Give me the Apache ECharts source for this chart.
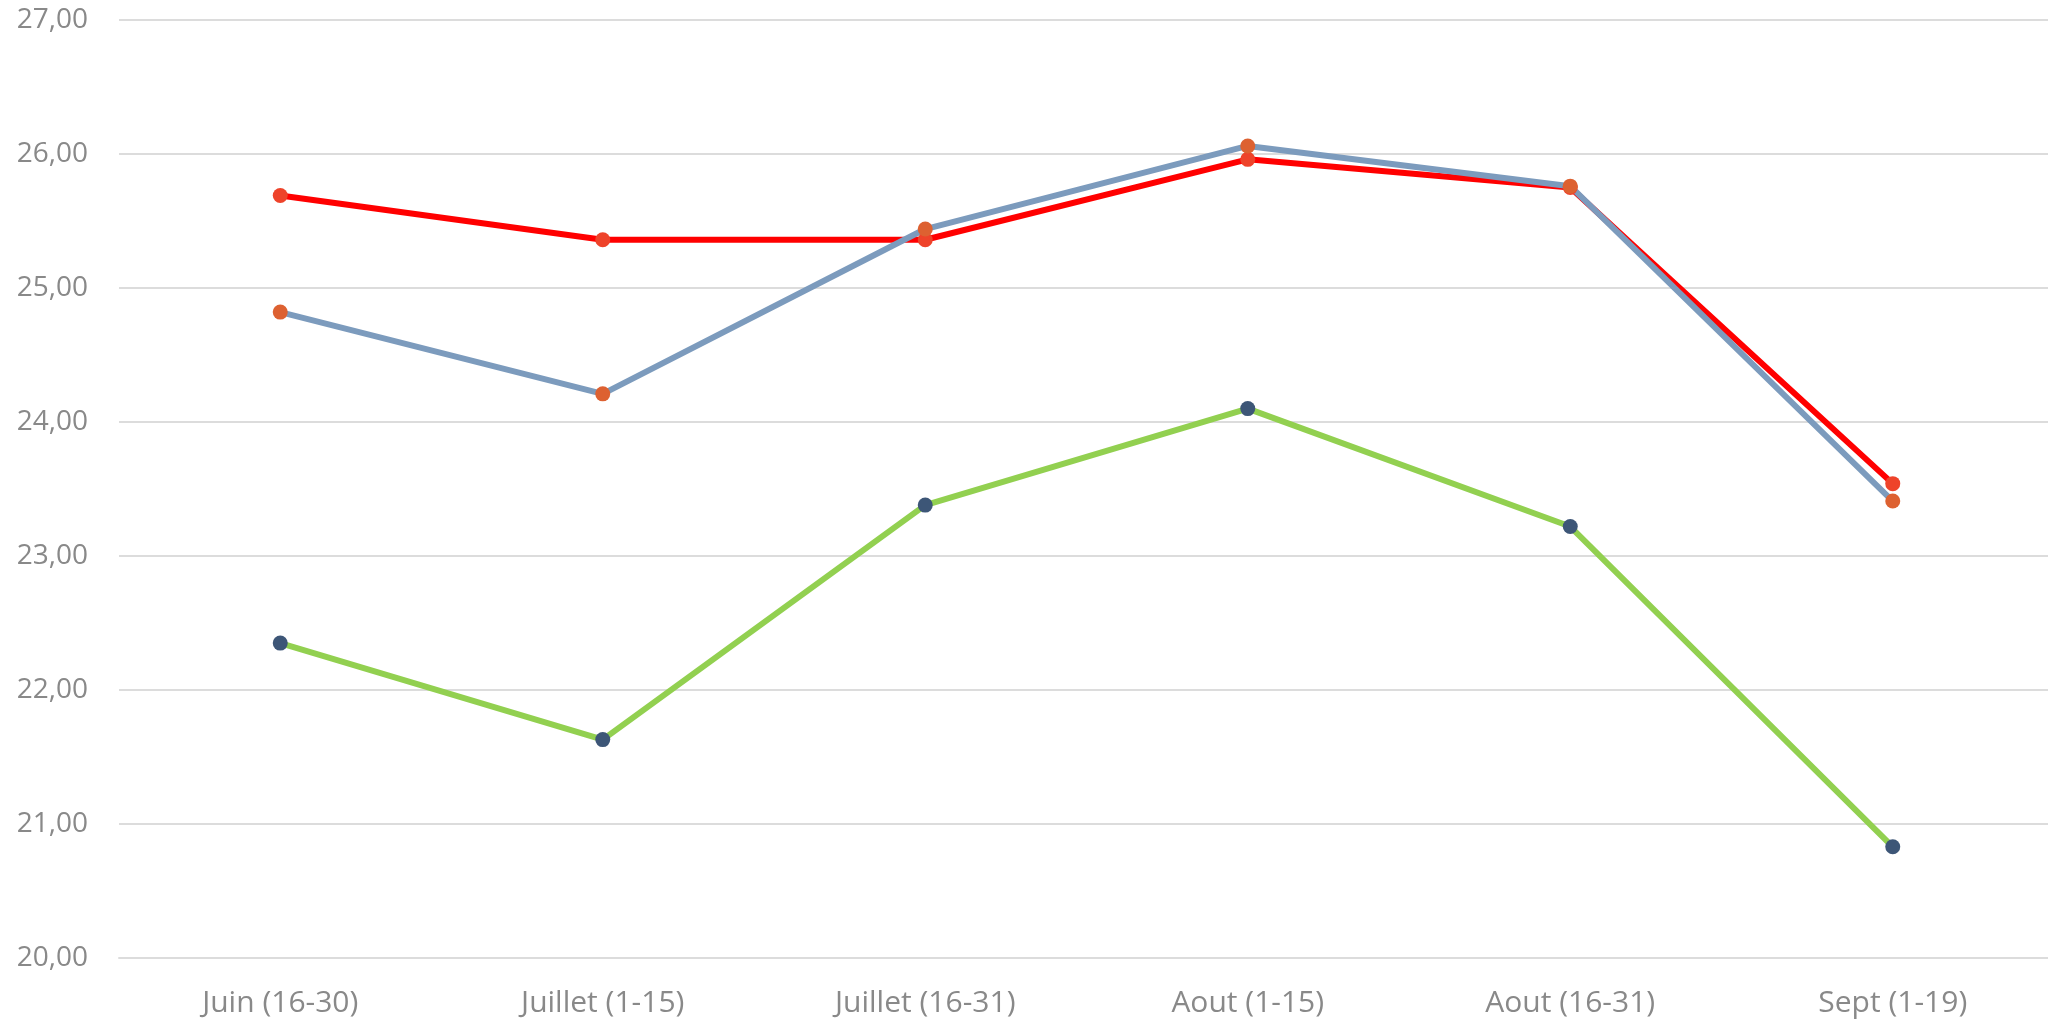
<!DOCTYPE html>
<html>
<head>
<meta charset="utf-8">
<title>Évolution par quinzaine</title>
<script src="https://cdn.jsdelivr.net/npm/echarts@6/dist/echarts.min.js"></script>
<style>
  html, body { margin: 0; padding: 0; background: #ffffff; overflow: hidden; }
  /* the plot area runs slightly past the right edge of the window */
  #chart { width: 2060px; height: 1023px; }
</style>
</head>
<body>
<div id="chart"></div>
<script>
// Périodes (quinzaines) affichées en abscisse
const categories = ['Juin (16-30)', 'Juillet (1-15)', 'Juillet (16-31)', 'Aout (1-15)', 'Aout (16-31)', 'Sept (1-19)'];

// Séries de valeurs
const serieRouge = [25.69, 25.36, 25.36, 25.96, 25.75, 23.54];
const serieBleue = [24.82, 24.21, 25.44, 26.06, 25.76, 23.41];
const serieVerte = [22.35, 21.63, 23.38, 24.10, 23.22, 20.83];

// Graduations de l'axe vertical
const yMin = 20;
const yMax = 27;
const yStep = 1;

const textColor = '#898989';
const labelFont = '"Open Sans", "Noto Sans", sans-serif';

const chart = echarts.init(document.getElementById('chart'), null, { renderer: 'canvas' });

function lineSeries(name, data, lineColor, markerColor) {
  return {
    name: name,
    type: 'line',
    data: data,
    symbol: 'circle',
    symbolSize: 15,
    showSymbol: true,
    lineStyle: { color: lineColor, width: 6 },
    itemStyle: { color: markerColor, borderWidth: 0 },
    emphasis: { disabled: true },
    animation: false
  };
}

chart.setOption({
  backgroundColor: '#ffffff',
  animation: false,
  grid: { left: 119, width: 1935, top: 20, bottom: 65, containLabel: false },
  xAxis: {
    type: 'category',
    data: categories,
    boundaryGap: true,
    axisLine: { show: true, lineStyle: { color: '#dcdcdc', width: 2 } },
    axisTick: { show: false },
    axisLabel: {
      color: textColor,
      fontFamily: labelFont,
      fontSize: 30,
      margin: 30
    },
    splitLine: { show: false }
  },
  yAxis: {
    type: 'value',
    min: yMin,
    max: yMax,
    interval: yStep,
    axisLine: { show: false },
    axisTick: { show: false },
    axisLabel: {
      color: textColor,
      fontFamily: labelFont,
      fontSize: 28,
      margin: 31,
      formatter: v => v.toFixed(2).replace('.', ',')
    },
    splitLine: { show: true, lineStyle: { color: '#dcdcdc', width: 2 } }
  },
  series: [
    lineSeries('Série verte', serieVerte, '#92d050', '#3d5677'),
    lineSeries('Série rouge', serieRouge, '#ff0000', '#ee432a'),
    lineSeries('Série bleue', serieBleue, '#7c9bbd', '#dd6131')
  ]
});
</script>
</body>
</html>
